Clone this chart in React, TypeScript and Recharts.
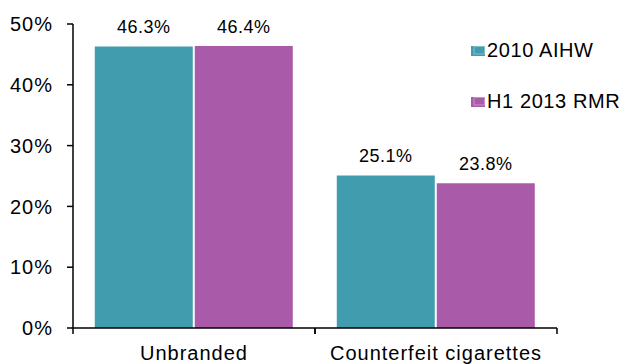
import React from "react";
import { BarChart, Bar, XAxis, YAxis, LabelList } from "recharts";

const categories = ["Unbranded", "Counterfeit cigarettes"];
const aihw2010 = [46.3, 25.1];
const rmr2013 = [46.4, 23.8];
const yTicks = [0, 10, 20, 30, 40, 50];

const SERIES = [
    { key: "aihw", name: "2010 AIHW", color: "#419DAE" },
    { key: "rmr", name: "H1 2013 RMR", color: "#A95BA9" },
];

const data = categories.map((c, i) => ({ category: c, aihw: aihw2010[i], rmr: rmr2013[i] }));

const W = 622;
const H = 364;
const MARGIN = { top: 24, right: 65, bottom: 0, left: 0 };
const Y_WIDTH = 73;
const HALF_BAND = (W - MARGIN.right - Y_WIDTH) / categories.length / 2;
const FONT = "Arial, 'Liberation Sans', sans-serif";

function CategoryTick(props: any) {
    const { x, y, payload } = props;
    const axisY = y - 18;
    return (
        <g>
            <line x1={x - HALF_BAND} x2={x - HALF_BAND} y1={axisY} y2={axisY + 6} stroke="#000" strokeWidth={1.5} />
            <line x1={x + HALF_BAND} x2={x + HALF_BAND} y1={axisY} y2={axisY + 6} stroke="#000" strokeWidth={1.5} />
            <text x={x} y={y} dy="0.71em" textAnchor="middle" fontSize={20} letterSpacing={1} fill="#000" fontFamily={FONT}>
                {payload.value}
            </text>
        </g>
    );
}

function LegendBox() {
    return (
        <div
            style={{
                position: "absolute",
                left: 471,
                top: 25,
                width: 151,
                whiteSpace: "nowrap",
                fontFamily: FONT,
                fontSize: 20,
                letterSpacing: 0.6,
                color: "#000",
            }}
        >
            {SERIES.map((s) => (
                <div key={s.key} style={{ display: "flex", alignItems: "center", height: 51 }}>
                    <svg width={15} height={12} style={{ marginRight: 1, flex: "none" }}>
                        <rect x={0} y={1} width={14} height={10} fill={s.color} />
                        <rect x={3} y={1.5} width={10.5} height={7.5} fill="none" stroke="#fff" strokeOpacity={0.35} />
                    </svg>
                    <span>{s.name}</span>
                </div>
            ))}
        </div>
    );
}

export default function App() {
    return (
        <div style={{ position: "absolute", left: 0, top: 0, width: W, height: H, background: "#fff", overflow: "hidden" }}>
            <BarChart width={W} height={H} data={data} margin={MARGIN} barCategoryGap="9%" barGap={2}>
                <XAxis
                    dataKey="category"
                    axisLine={{ stroke: "#000", strokeWidth: 1.5 }}
                    tickLine={false}
                    tickSize={5}
                    tickMargin={13}
                    height={36}
                    interval={0}
                    tick={<CategoryTick />}
                />
                <YAxis
                    width={Y_WIDTH}
                    domain={[0, 50]}
                    ticks={yTicks}
                    tickFormatter={(v: number) => `${v}%`}
                    axisLine={{ stroke: "#000", strokeWidth: 1.5 }}
                    tickLine={{ stroke: "#000", strokeWidth: 1.5 }}
                    tickSize={6}
                    tickMargin={14}
                    tick={{ fontSize: 20, letterSpacing: 1, fill: "#000", fontFamily: FONT }}
                />
                {SERIES.map((s) => (
                    <Bar key={s.key} dataKey={s.key} name={s.name} fill={s.color} isAnimationActive={false}>
                        <LabelList
                            dataKey={s.key}
                            position="top"
                            offset={13}
                            formatter={(v: any) => `${v}%`}
                            style={{ fontSize: 18, letterSpacing: 0.5, fill: "#000", fontFamily: FONT }}
                        />
                    </Bar>
                ))}
            </BarChart>
            <LegendBox />
        </div>
    );
}
